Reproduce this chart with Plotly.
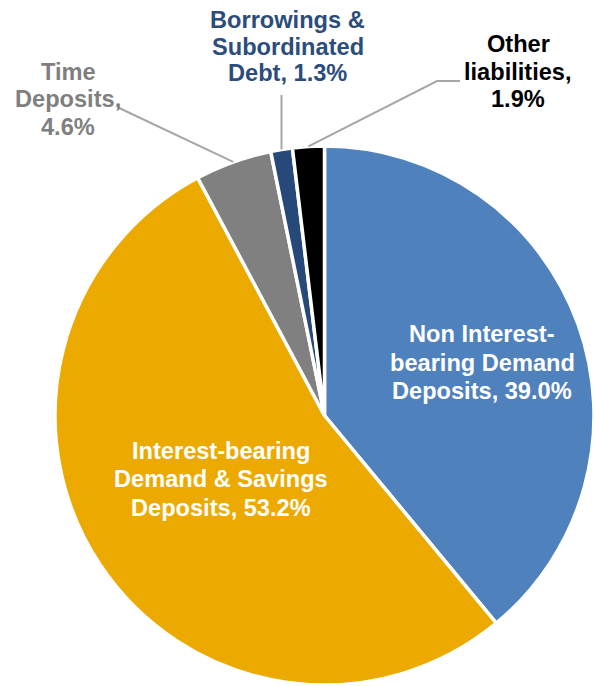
import math
import plotly.graph_objects as go

# Liability mix (share of total, %)
categories = [
    "Non Interest-bearing Demand Deposits",
    "Interest-bearing Demand & Savings Deposits",
    "Time Deposits",
    "Borrowings & Subordinated Debt",
    "Other liabilities",
]
values = [39.0, 53.2, 4.6, 1.3, 1.9]
label_lines = [
    ["Non Interest-", "bearing Demand", "Deposits, {v:.1f}%"],
    ["Interest-bearing", "Demand & Savings", "Deposits, {v:.1f}%"],
    ["Time", "Deposits,", "{v:.1f}%"],
    ["Borrowings &", "Subordinated", "Debt, {v:.1f}%"],
    ["Other", "liabilities,", "{v:.1f}%"],
]
slice_colors = ["#4F81BD", "#ECAA00", "#808080", "#27497A", "#000000"]
text_colors = ["#FFFFFF", "#FFFFFF", "#7F7F7F", "#2C4C7C", "#000000"]

W, H = 594, 686
CX, CY, R = 324.5, 415.5, 269.5  # pie centre / radius in pixels

FONT = "Liberation Sans, Arial, sans-serif"
FS = 23.6

# label blocks: centre x and first baseline (px), line step (px)
label_pos = [
    (482, 342.7, 28.2),
    (221, 459.3, 28.3),
    (68, 80.0, 27.5),
    (287.5, 28.3, 26.7),
    (518, 52.5, 27.5),
]
# where each leader line leaves its label (px); None = inside label
leader_start = [None, None, [(117, 107)], [None, 95], [(460, 81), (437, 81)]]


def px_x(x):
    return x / W


def px_y(y):
    return 1 - y / H


fig = go.Figure(
    go.Pie(
        labels=categories,
        values=values,
        sort=False,
        direction="clockwise",
        rotation=0,
        marker=dict(colors=slice_colors, line=dict(color="#FFFFFF", width=3.5)),
        textinfo="none",
        hoverinfo="label+percent",
        showlegend=False,
        domain=dict(
            x=[px_x(CX - R), px_x(CX + R)],
            y=[px_y(CY + R), px_y(CY - R)],
        ),
    )
)

annotations = []
for i, (lines, (lx, base, step)) in enumerate(zip(label_lines, label_pos)):
    for k, ln in enumerate(lines):
        baseline = base + k * step
        annotations.append(
            dict(
                x=px_x(lx),
                y=px_y(baseline - 0.35 * FS),
                xref="paper",
                yref="paper",
                xanchor="center",
                yanchor="middle",
                text=ln.format(v=values[i]),
                showarrow=False,
                font=dict(family=FONT, size=FS, color=text_colors[i], weight="bold"),
            )
        )

# leader lines from the outer labels to the middle of each small slice
total = sum(values)
shapes = []
cum = 0.0
for i, v in enumerate(values):
    mid = (cum + v / 2) / total * 2 * math.pi
    cum += v
    if leader_start[i] is None:
        continue
    ex = CX + R * math.sin(mid)
    ey = CY - R * math.cos(mid)
    if leader_start[i][0] is None:
        pts = [(ex, leader_start[i][1])]
    else:
        pts = list(leader_start[i])
    pts.append((ex, ey))
    path = "M " + " L ".join(f"{px_x(x):.5f},{px_y(y):.5f}" for x, y in pts)
    shapes.append(
        dict(
            type="path",
            path=path,
            xref="paper",
            yref="paper",
            line=dict(color="#A6A6A6", width=2),
        )
    )

fig.update_layout(
    width=W,
    height=H,
    margin=dict(l=0, r=0, t=0, b=0),
    paper_bgcolor="#FFFFFF",
    plot_bgcolor="#FFFFFF",
    annotations=annotations,
    shapes=shapes,
)

fig.write_html("out.html", include_plotlyjs=True, config={"displayModeBar": False})
